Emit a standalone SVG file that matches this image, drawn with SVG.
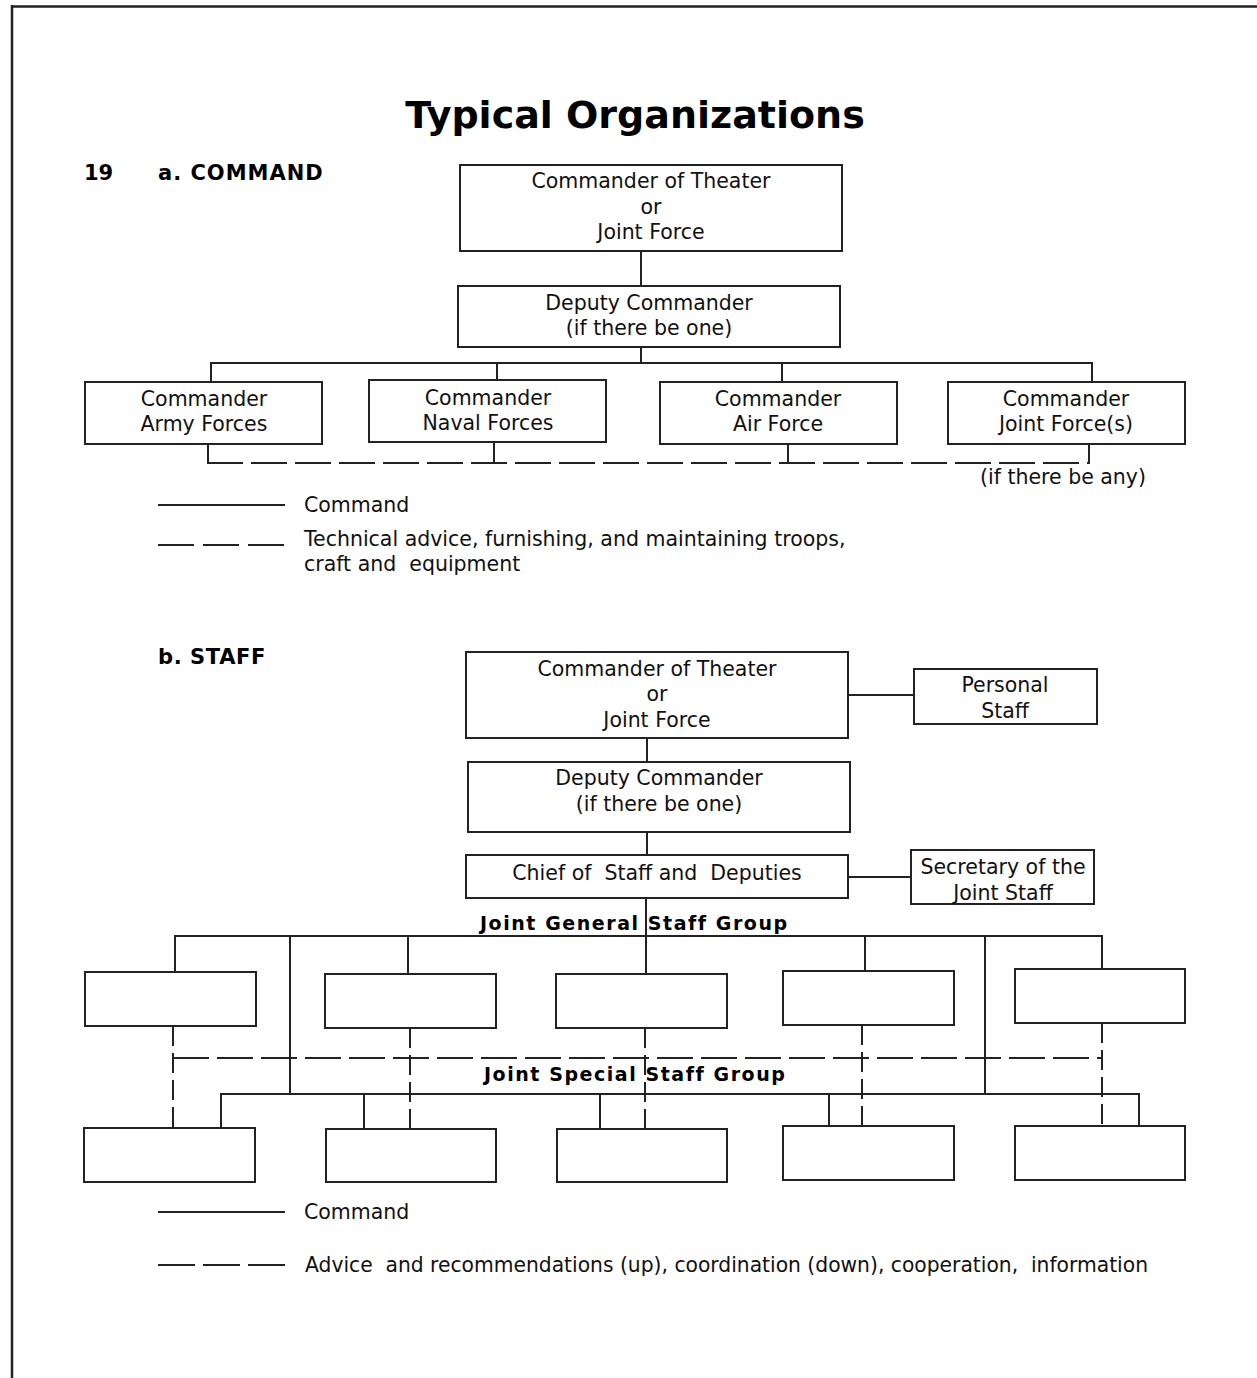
<svg xmlns="http://www.w3.org/2000/svg" width="1257" height="1378" viewBox="0 0 1257 1378">
<style>
.box{fill:#fff;stroke:#222;stroke-width:2}
.ln{stroke:#222;stroke-width:2;fill:none}
.dsh{stroke:#222;stroke-width:2;fill:none;stroke-dasharray:36 8}
.vd{stroke:#222;stroke-width:2;fill:none;stroke-dasharray:20 7}
.t{font-family:"DejaVu Sans","Liberation Sans",sans-serif;font-size:20.5px;fill:#111}
.c{text-anchor:middle}
.b{font-family:"DejaVu Sans","Liberation Sans",sans-serif;font-weight:bold;fill:#000}
</style>
<rect width="1257" height="1378" fill="#fff"/>
<g id="frame">
<line x1="11" y1="6.5" x2="1257" y2="6.5" stroke="#222" stroke-width="2.5"/>
<line x1="12" y1="5" x2="12" y2="1378" stroke="#222" stroke-width="2.5"/>
</g>
<g id="titles">
<text class="b" x="635" y="128" text-anchor="middle" font-size="38">Typical Organizations</text>
<text class="b" x="84" y="180" font-size="21">19</text>
<text class="b" x="158" y="180" font-size="21" letter-spacing="1">a. COMMAND</text>
<text class="b" x="158" y="664" font-size="21" letter-spacing="0.6">b. STAFF</text>
<text class="b" x="480" y="930" font-size="19" letter-spacing="1.55">Joint General Staff Group</text>
<text class="b" x="484" y="1081" font-size="19" letter-spacing="1.55">Joint Special Staff Group</text>
</g>
<g id="connectors">
<!-- section a -->
<line class="ln" x1="641" y1="251" x2="641" y2="286"/>
<line class="ln" x1="641" y1="347" x2="641" y2="363"/>
<line class="ln" x1="210" y1="363" x2="1093" y2="363"/>
<line class="ln" x1="211" y1="363" x2="211" y2="382"/>
<line class="ln" x1="497" y1="363" x2="497" y2="380"/>
<line class="ln" x1="782" y1="363" x2="782" y2="382"/>
<line class="ln" x1="1092" y1="363" x2="1092" y2="382"/>
<line class="ln" x1="208" y1="444" x2="208" y2="464"/>
<line class="ln" x1="494" y1="442" x2="494" y2="464"/>
<line class="ln" x1="788" y1="444" x2="788" y2="464"/>
<line class="ln" x1="1089" y1="444" x2="1089" y2="464"/>
<line class="dsh" x1="207" y1="463" x2="1090" y2="463"/>
<!-- section b -->
<line class="ln" x1="848" y1="695" x2="914" y2="695"/>
<line class="ln" x1="647" y1="738" x2="647" y2="762"/>
<line class="ln" x1="647" y1="832" x2="647" y2="855"/>
<line class="ln" x1="848" y1="877" x2="911" y2="877"/>
<line class="ln" x1="646" y1="898" x2="646" y2="974"/>
<line class="ln" x1="174" y1="936" x2="1103" y2="936"/>
<line class="ln" x1="175" y1="936" x2="175" y2="972"/>
<line class="ln" x1="408" y1="936" x2="408" y2="974"/>
<line class="ln" x1="865" y1="936" x2="865" y2="971"/>
<line class="ln" x1="1102" y1="936" x2="1102" y2="969"/>
<line class="ln" x1="290" y1="936" x2="290" y2="1095"/>
<line class="ln" x1="985" y1="936" x2="985" y2="1095"/>
<line class="ln" x1="220" y1="1094" x2="1140" y2="1094"/>
<line class="ln" x1="221" y1="1094" x2="221" y2="1128"/>
<line class="ln" x1="364" y1="1094" x2="364" y2="1129"/>
<line class="ln" x1="600" y1="1094" x2="600" y2="1129"/>
<line class="ln" x1="829" y1="1094" x2="829" y2="1126"/>
<line class="ln" x1="1139" y1="1094" x2="1139" y2="1126"/>
<line class="dsh" x1="173" y1="1058" x2="1102" y2="1058"/>
<line class="vd" x1="173" y1="1026" x2="173" y2="1128"/>
<line class="vd" x1="410" y1="1028" x2="410" y2="1129"/>
<line class="vd" x1="645" y1="1028" x2="645" y2="1129"/>
<line class="vd" x1="862" y1="1025" x2="862" y2="1126"/>
<line class="vd" x1="1102" y1="1023" x2="1102" y2="1126"/>
</g>
<g id="a-theater"><rect class="box" x="460" y="165" width="382" height="86"/>
<text class="t c" x="651" y="188">Commander of Theater</text>
<text class="t c" x="651" y="214">or</text>
<text class="t c" x="651" y="239">Joint Force</text></g>
<g id="a-deputy"><rect class="box" x="458" y="286" width="382" height="61"/>
<text class="t c" x="649" y="310">Deputy Commander</text>
<text class="t c" x="649" y="335">(if there be one)</text></g>
<g id="a-army"><rect class="box" x="85" y="382" width="237" height="62"/>
<text class="t c" x="204" y="406">Commander</text>
<text class="t c" x="204" y="431">Army Forces</text></g>
<g id="a-naval"><rect class="box" x="369" y="380" width="237" height="62"/>
<text class="t c" x="488" y="405">Commander</text>
<text class="t c" x="488" y="430">Naval Forces</text></g>
<g id="a-air"><rect class="box" x="660" y="382" width="237" height="62"/>
<text class="t c" x="778" y="406">Commander</text>
<text class="t c" x="778" y="431">Air Force</text></g>
<g id="a-joint"><rect class="box" x="948" y="382" width="237" height="62"/>
<text class="t c" x="1066" y="406">Commander</text>
<text class="t c" x="1066" y="431">Joint Force(s)</text></g>
<g id="a-note"><text class="t c" x="1063" y="484">(if there be any)</text></g>
<g id="a-legend">
<line class="ln" x1="158" y1="505" x2="285" y2="505"/>
<text class="t" x="304" y="512">Command</text>
<line class="ln" x1="158" y1="545" x2="285" y2="545" stroke-dasharray="36 9"/>
<text class="t" x="304" y="546">Technical advice, furnishing, and maintaining troops,</text>
<text class="t" x="304" y="571" xml:space="preserve">craft and  equipment</text>
</g>
<g id="b-theater"><rect class="box" x="466" y="652" width="382" height="86"/>
<text class="t c" x="657" y="676">Commander of Theater</text>
<text class="t c" x="657" y="701">or</text>
<text class="t c" x="657" y="727">Joint Force</text></g>
<g id="b-personal"><rect class="box" x="914" y="669" width="183" height="55"/>
<text class="t c" x="1005" y="692">Personal</text>
<text class="t c" x="1005" y="718">Staff</text></g>
<g id="b-deputy"><rect class="box" x="468" y="762" width="382" height="70"/>
<text class="t c" x="659" y="785">Deputy Commander</text>
<text class="t c" x="659" y="811">(if there be one)</text></g>
<g id="b-chief"><rect class="box" x="466" y="855" width="382" height="43"/>
<text class="t c" x="657" y="880" xml:space="preserve">Chief of  Staff and  Deputies</text></g>
<g id="b-secretary"><rect class="box" x="911" y="850" width="183" height="54"/>
<text class="t c" x="1003" y="874">Secretary of the</text>
<text class="t c" x="1003" y="900">Joint Staff</text></g>
<g id="b-g1"><rect class="box" x="85" y="972" width="171" height="54"/></g>
<g id="b-g2"><rect class="box" x="325" y="974" width="171" height="54"/></g>
<g id="b-g3"><rect class="box" x="556" y="974" width="171" height="54"/></g>
<g id="b-g4"><rect class="box" x="783" y="971" width="171" height="54"/></g>
<g id="b-g5"><rect class="box" x="1015" y="969" width="170" height="54"/></g>
<g id="b-s1"><rect class="box" x="84" y="1128" width="171" height="54"/></g>
<g id="b-s2"><rect class="box" x="326" y="1129" width="170" height="53"/></g>
<g id="b-s3"><rect class="box" x="557" y="1129" width="170" height="53"/></g>
<g id="b-s4"><rect class="box" x="783" y="1126" width="171" height="54"/></g>
<g id="b-s5"><rect class="box" x="1015" y="1126" width="170" height="54"/></g>
<g id="b-legend">
<line class="ln" x1="158" y1="1212" x2="285" y2="1212"/>
<text class="t" x="304" y="1219">Command</text>
<line class="ln" x1="158" y1="1265" x2="285" y2="1265" stroke-dasharray="37 8"/>
<text class="t" x="305" y="1272" xml:space="preserve" textLength="843" lengthAdjust="spacingAndGlyphs">Advice  and recommendations (up), coordination (down), cooperation,  information</text>
</g>
</svg>
